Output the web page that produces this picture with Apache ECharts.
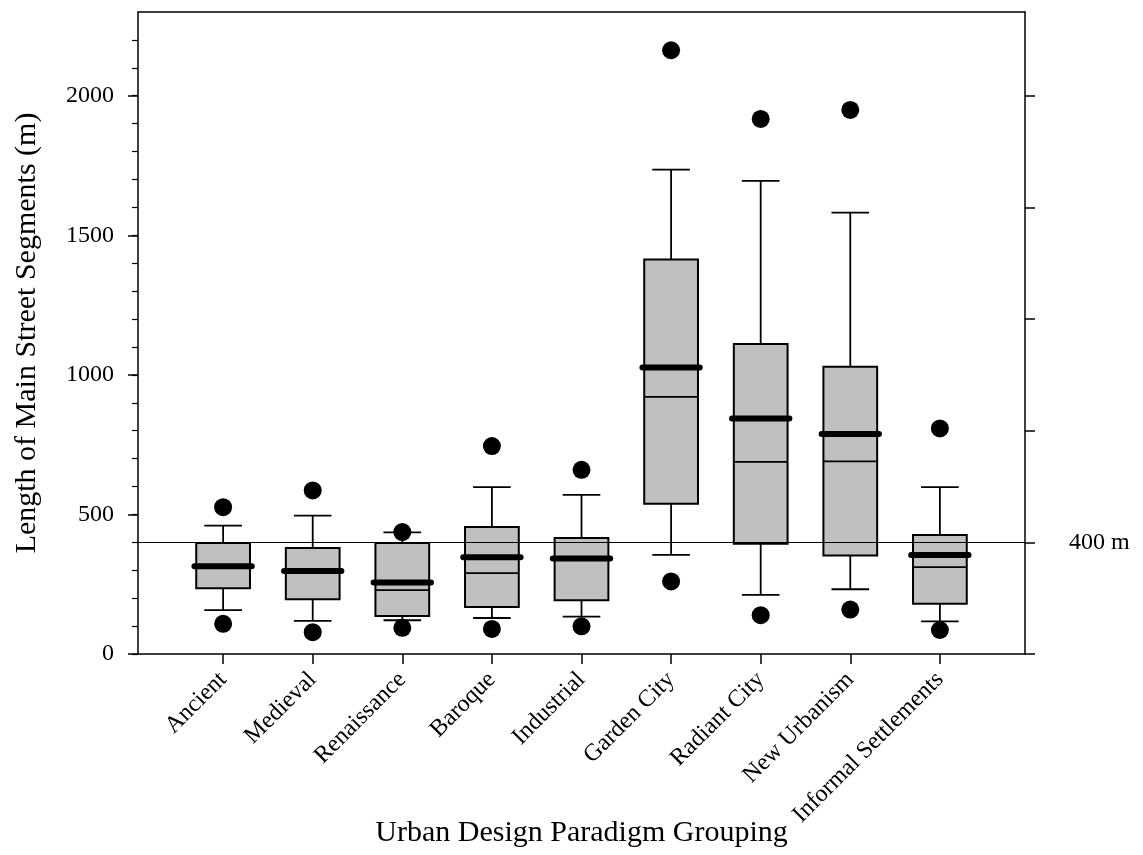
<!DOCTYPE html>
<html>
<head>
<meta charset="utf-8">
<script src="https://cdn.jsdelivr.net/npm/echarts@6/dist/echarts.min.js"></script>
<style>
html,body{margin:0;padding:0;background:#fff;}
#chart{width:1143px;height:855px;}
</style>
</head>
<body>
<div id="chart"></div>
<script>
const categories = ['Ancient','Medieval','Renaissance','Baroque','Industrial','Garden City','Radiant City','New Urbanism','Informal Settlements'];
const minVals    = [157, 119, 121, 129, 134, 355, 212, 232, 117];
const q1Vals     = [236, 196, 136, 168, 193, 538, 395, 353, 180];
const medianVals = [314, 297, 229, 290, 342, 921, 688, 690, 311];
const q3Vals     = [398, 380, 398, 455, 416, 1413, 1111, 1029, 426];
const maxVals    = [460, 496, 436, 598, 570, 1735, 1695, 1581, 598];
const meanVals   = [314, 297, 256, 347, 342, 1026, 844, 788, 355];
const outlierLow  = [108, 78, 94, 90, 99, 260, 139, 159, 86];
const outlierHigh = [526, 586, 437, 745, 660, 2163, 1917, 1949, 808];
const leftMajorTicks = [0, 500, 1000, 1500, 2000];
const leftMinorTicks = [0,100,200,300,400,500,600,700,800,900,1000,1100,1200,1300,1400,1500,1600,1700,1800,1900,2000,2100,2200];
const rightTicks = [0, 400, 800, 1200, 1600, 2000];
const refValue = 400;
const refLabel = '400 m';

const FONT = '"Liberation Serif", "Times New Roman", serif';
const catPos = categories.map((c, i) => i + 1);

const boxData = categories.map((c, i) => [catPos[i], minVals[i], q1Vals[i], medianVals[i], q3Vals[i], maxVals[i], meanVals[i]]);
const outlierData = [];
categories.forEach((c, i) => {
  outlierData.push([catPos[i], outlierLow[i]]);
  outlierData.push([catPos[i], outlierHigh[i]]);
});

const chart = echarts.init(document.getElementById('chart'));
const lineStyle = {stroke: '#000', lineWidth: 1.8};

chart.setOption({
  animation: false,
  backgroundColor: '#fff',
  grid: {left: 138, right: 118, top: 12, bottom: 201, containLabel: false, outerBoundsMode: 'none'},
  xAxis: [{
    type: 'value', min: 0.05, max: 9.95, position: 'bottom',
    name: 'Urban Design Paradigm Grouping', nameLocation: 'middle', nameGap: 164, nameMoveOverlap: false,
    nameTextStyle: {fontFamily: FONT, fontSize: 30, color: '#000'},
    axisLine: {show: true, onZero: false, lineStyle: {color: '#000', width: 1.5}},
    axisTick: {show: true, customValues: catPos, length: 10, lineStyle: {color: '#000', width: 1.5}},
    axisLabel: {customValues: catPos, rotate: 45, margin: 22, fontFamily: FONT, fontSize: 24, color: '#000',
      formatter: v => categories[Math.round(v) - 1] || ''},
    splitLine: {show: false}
  }, {
    type: 'value', min: 0.05, max: 9.95, position: 'top',
    axisLine: {show: true, onZero: false, lineStyle: {color: '#000', width: 1.5}},
    axisTick: {show: false}, axisLabel: {show: false}, splitLine: {show: false}
  }],
  yAxis: [{
    type: 'value', min: 0, max: 2300, position: 'left',
    name: 'Length of Main Street Segments (m)', nameLocation: 'middle', nameGap: 96, nameMoveOverlap: false,
    nameTextStyle: {fontFamily: FONT, fontSize: 30, color: '#000'},
    axisLine: {show: true, onZero: false, lineStyle: {color: '#000', width: 1.5}},
    axisTick: {show: true, customValues: leftMinorTicks, length: 6, lineStyle: {color: '#000', width: 1.2}},
    axisLabel: {customValues: leftMajorTicks, margin: 24, fontFamily: FONT, fontSize: 24, color: '#000',
      formatter: v => String(v)},
    splitLine: {show: false}
  }, {
    type: 'value', min: 0, max: 2300, position: 'left',
    axisLine: {show: false},
    axisTick: {show: true, customValues: leftMajorTicks, length: 10, lineStyle: {color: '#000', width: 1.5}},
    axisLabel: {show: false}, splitLine: {show: false}
  }, {
    type: 'value', min: 0, max: 2300, position: 'right',
    axisLine: {show: true, onZero: false, lineStyle: {color: '#000', width: 1.5}},
    axisTick: {show: true, customValues: rightTicks, length: 10, lineStyle: {color: '#000', width: 1.5}},
    axisLabel: {show: false}, splitLine: {show: false}
  }],
  series: [{
    type: 'custom', xAxisIndex: 0, yAxisIndex: 0, z: 2,
    data: boxData,
    renderItem: function (params, api) {
      const x = api.value(0);
      const band = api.size([1, 0])[0];
      const boxW = band * 0.6, capW = band * 0.42, meanW = band * 0.64;
      const cx = api.coord([x, 0])[0];
      const y = v => api.coord([x, v])[1];
      const yMin = y(api.value(1)), yQ1 = y(api.value(2)), yMed = y(api.value(3)),
            yQ3 = y(api.value(4)), yMax = y(api.value(5)), yMean = y(api.value(6));
      return {
        type: 'group',
        children: [
          {type: 'line', shape: {x1: cx, y1: yQ1, x2: cx, y2: yMin}, style: lineStyle},
          {type: 'line', shape: {x1: cx, y1: yQ3, x2: cx, y2: yMax}, style: lineStyle},
          {type: 'line', shape: {x1: cx - capW / 2, y1: yMin, x2: cx + capW / 2, y2: yMin}, style: lineStyle},
          {type: 'line', shape: {x1: cx - capW / 2, y1: yMax, x2: cx + capW / 2, y2: yMax}, style: lineStyle},
          {type: 'rect', shape: {x: cx - boxW / 2, y: yQ3, width: boxW, height: yQ1 - yQ3},
            style: {fill: '#c0c0c0', stroke: '#000', lineWidth: 2}},
          {type: 'line', shape: {x1: cx - boxW / 2, y1: yMed, x2: cx + boxW / 2, y2: yMed}, style: lineStyle},
          {type: 'line', shape: {x1: cx - meanW / 2, y1: yMean, x2: cx + meanW / 2, y2: yMean},
            style: {stroke: '#000', lineWidth: 6, lineCap: 'round'}}
        ]
      };
    }
  }, {
    type: 'scatter', xAxisIndex: 0, yAxisIndex: 0, z: 3,
    data: outlierData, symbol: 'circle', symbolSize: 18,
    itemStyle: {color: '#000', opacity: 1},
    markLine: {
      silent: true, symbol: ['none', 'none'],
      lineStyle: {color: '#000', width: 1.2, type: 'solid', opacity: 1},
      label: {show: true, position: 'end', distance: 44, formatter: refLabel,
        fontFamily: FONT, fontSize: 24, color: '#000'},
      data: [{yAxis: refValue}]
    }
  }]
});
</script>
</body>
</html>
